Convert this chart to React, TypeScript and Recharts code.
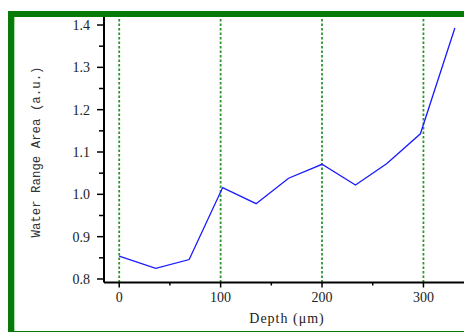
import { Label, Line, LineChart, ReferenceLine, XAxis, YAxis } from "recharts";

const depth = [0, 36, 69, 102, 135, 167, 200, 233, 264, 297, 331];
const waterArea = [0.854, 0.825, 0.846, 1.016, 0.978, 1.038, 1.071, 1.022, 1.073, 1.143, 1.393];

const xTicks = [0, 50, 100, 150, 200, 250, 300];
const xMajor = [0, 100, 200, 300];
const yTicks = [0.8, 0.85, 0.9, 0.95, 1.0, 1.05, 1.1, 1.15, 1.2, 1.25, 1.3, 1.35, 1.4];
const yMajor = [0.8, 0.9, 1.0, 1.1, 1.2, 1.3, 1.4];
const gridX = [0, 100, 200, 300];

const data = depth.map((d, i) => ({ depth: d, area: waterArea[i] }));

const serif = "Liberation Serif, Times New Roman, serif";
const mono = "Liberation Mono, Courier New, monospace";

const isMajor = (list: number[], v: number) => list.some((m) => Math.abs(m - v) < 1e-6);

function XTick(props: any) {
  const { x, y, payload } = props;
  const major = isMajor(xMajor, payload.value);
  return (
    <g>
      <line x1={x} x2={x} y1={y} y2={y + (major ? 5 : 3)} stroke="#000" strokeWidth={1.5} />
      {major ? (
        <text x={x} y={y + 19} textAnchor="middle" style={{ fontFamily: serif, fontSize: 14 }} fill="#222">
          {payload.value}
        </text>
      ) : null}
    </g>
  );
}

function YTick(props: any) {
  const { x, y, payload } = props;
  const major = isMajor(yMajor, payload.value);
  return (
    <g>
      <line x1={x - (major ? 7 : 5)} x2={x} y1={y} y2={y} stroke="#000" strokeWidth={1.5} />
      {major ? (
        <text x={x - 14} y={y + 5} textAnchor="end" style={{ fontFamily: serif, fontSize: 14 }} fill="#222">
          {Number(payload.value).toFixed(1)}
        </text>
      ) : null}
    </g>
  );
}

export default function App() {
  return (
    <div style={{ position: "absolute", left: 0, top: 0, width: 464, height: 332, overflow: "hidden", background: "#fff" }}>
      <LineChart width={464} height={332} data={data} margin={{ top: 16, right: 0, bottom: 0, left: 0 }}>
        <XAxis
          dataKey="depth"
          type="number"
          domain={[-15, 340]}
          ticks={xTicks}
          interval={0}
          height={49.5}
          tickSize={0}
          tickMargin={0}
          tickLine={false}
          tick={<XTick />}
          axisLine={{ stroke: "#000", strokeWidth: 2 }}
          allowDataOverflow
        >
          <Label
            content={(p: any) => {
              const vb = p.viewBox;
              return (
                <text x={vb.x + vb.width / 2 + 3} y={323} textAnchor="middle" style={{ fontFamily: serif, fontSize: 14, letterSpacing: 1 }} fill="#222">
                  Depth (μm)
                </text>
              );
            }}
          />
        </XAxis>
        <YAxis
          type="number"
          domain={[0.7917, 1.4213]}
          ticks={yTicks}
          interval={0}
          width={104}
          tickSize={0}
          tickMargin={0}
          tickLine={false}
          tick={<YTick />}
          axisLine={{ stroke: "#000", strokeWidth: 2 }}
          allowDataOverflow
        >
          <Label
            content={() => (
              <text x={40} y={152} transform="rotate(-90, 40, 152)" textAnchor="middle" style={{ fontFamily: mono, fontSize: 12.4 }} fill="#333">
                Water Range Area (a.u.)
              </text>
            )}
          />
        </YAxis>
        {gridX.map((g) => (
          <ReferenceLine key={g} x={g} stroke="#2e942e" strokeWidth={1.8} strokeDasharray="2.5 2" />
        ))}
        <Line type="linear" dataKey="area" stroke="#1a1aff" strokeWidth={1.3} dot={false} isAnimationActive={false} />
      </LineChart>
      <div
        style={{
          position: "absolute",
          left: 8,
          top: 11,
          width: 470,
          height: 326,
          boxSizing: "border-box",
          border: "6px solid #087a08",
          boxShadow: "inset 1px 0 0 #a9d9a9",
          pointerEvents: "none",
        }}
      />
    </div>
  );
}
